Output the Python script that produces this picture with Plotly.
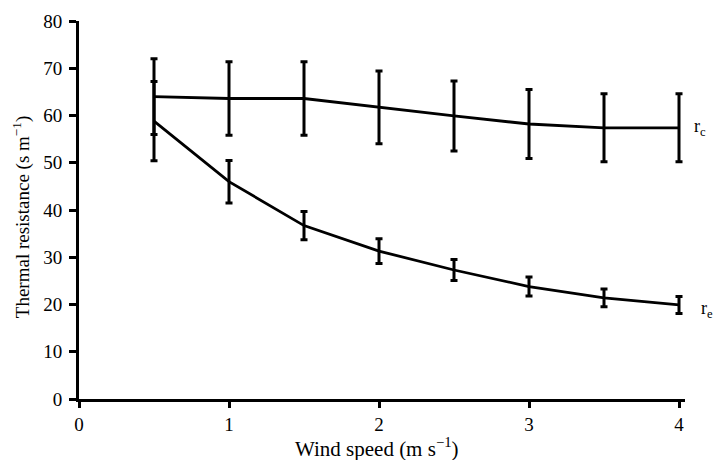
import plotly.graph_objects as go

wind = [0.5, 1.0, 1.5, 2.0, 2.5, 3.0, 3.5, 4.0]
rc = [64.0, 63.6, 63.6, 61.7, 59.9, 58.2, 57.4, 57.4]
rc_err = [8.0, 7.8, 7.8, 7.7, 7.4, 7.3, 7.2, 7.2]
re = [58.8, 46.0, 36.7, 31.3, 27.3, 23.8, 21.4, 19.9]
re_err = [8.4, 4.5, 3.0, 2.6, 2.2, 2.0, 1.9, 1.8]
x_ticks = [0, 1, 2, 3, 4]
y_ticks = [0, 10, 20, 30, 40, 50, 60, 70, 80]

font = "Liberation Serif"

fig = go.Figure()
for y, e in ((rc, rc_err), (re, re_err)):
    fig.add_trace(go.Scatter(
        x=wind, y=y, mode="lines",
        line=dict(color="black", width=2.8),
        error_y=dict(type="data", array=e, visible=True, color="black",
                     thickness=3, width=3.5),
        showlegend=False, hoverinfo="skip"))

fig.add_annotation(x=1.011, xref="paper", y=rc[-1], yref="y", text="r<sub>c</sub>",
                   showarrow=False, xanchor="left", yanchor="middle",
                   font=dict(size=18, family=font, color="black"))
fig.add_annotation(x=1.023, xref="paper", y=re[-1] - 1, yref="y", text="r<sub>e</sub>",
                   showarrow=False, xanchor="left", yanchor="middle",
                   font=dict(size=18, family=font, color="black"))

# axis titles
fig.add_annotation(x=0.4917, xref="paper", y=-0.128, yref="paper",
                   text="Wind speed (m s<sup>−1</sup>)", showarrow=False,
                   xanchor="center", yanchor="middle",
                   font=dict(size=21, family=font, color="black"))
fig.add_annotation(x=-0.0957, xref="paper", y=0.481, yref="paper",
                   text="Thermal resistance (s m<sup>−1</sup>)", showarrow=False,
                   textangle=-90, xanchor="center", yanchor="middle",
                   font=dict(size=19, family=font, color="black"))

axis_common = dict(showline=True, linecolor="black", linewidth=3, showgrid=False,
                   zeroline=False, ticks="outside", tickcolor="black", tickwidth=2.5,
                   automargin=False,
                   tickfont=dict(size=19, family=font, color="black"))

fig.update_layout(
    width=714, height=460,
    margin=dict(l=79, r=29, t=21, b=61),
    paper_bgcolor="white", plot_bgcolor="white",
    font=dict(family=font, color="black", size=19),
    xaxis=dict(range=[0, 4.04], tickvals=x_ticks, ticklen=6, **axis_common),
    yaxis=dict(range=[0, 80], tickvals=y_ticks, ticklen=7, ticklabelstandoff=3,
               **axis_common),
)

fig.write_html("out.html", config={"responsive": False, "displayModeBar": False},
               post_script="document.body.style.margin='0';document.body.style.overflow='hidden';")
